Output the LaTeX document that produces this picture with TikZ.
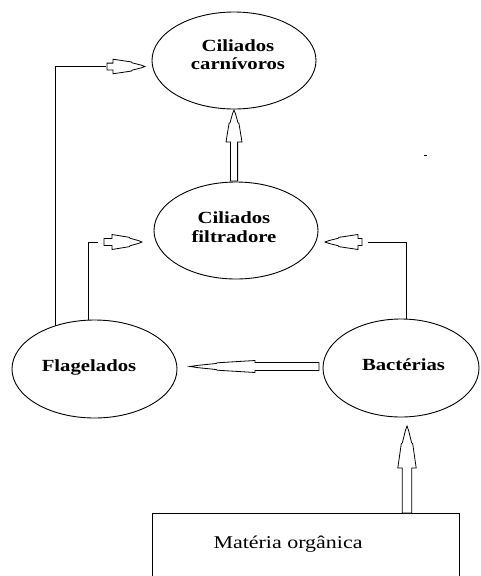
\documentclass[tikz,border=0pt]{standalone}
\usepackage{fontspec}
\setmainfont{Liberation Serif}[FakeStretch=1.22]
\usetikzlibrary{shapes.geometric,backgrounds,calc}
\newcommand{\blockarr}[6]{% #1 tip, #2 angle, #3 total length, #4 head length, #5 head half-width, #6 shaft half-width
  \begin{scope}[shift={(#1)}, x=1pt, y=1pt, rotate=#2]
    \draw[arrowline] (0,0) -- (-0.12*#4, 0.19*#5) -- (-0.4*#4, 0.5*#5) -- (-0.42*#4, 0.62*#5)
      -- (-#4, #5) -- (-#4, #6) -- (-#3, #6) -- (-#3, -#6) -- (-#4, -#6) -- (-#4, -#5)
      -- (-0.42*#4, -0.62*#5) -- (-0.4*#4, -0.5*#5) -- (-0.12*#4, -0.19*#5) -- cycle;
  \end{scope}}
\begin{document}
\begin{tikzpicture}[x=1pt, y=-1pt, line width=0.9pt,
  oval/.style={ellipse, draw, fill=white, inner sep=0pt, line width=0.9pt},
  lbl/.style={font=\fontsize{17}{18.5}\selectfont\bfseries, align=center, inner sep=0pt},
  plainlbl/.style={font=\fontsize{18}{20}\selectfont, inner sep=0pt},
  arrowline/.style={draw, line width=0.8pt, fill=white, line join=miter},
  conn/.style={line width=0.9pt}]
\useasboundingbox (0,0) rectangle (480,576);

% nodes
\node[oval, minimum width=164pt, minimum height=97pt] (carn) at (234,60.5) {};
\node[oval, minimum width=164pt, minimum height=97pt] (filt) at (236,230.5) {};
\node[oval, minimum width=165pt, minimum height=98pt] (flag) at (94.5,369) {};
\node[oval, minimum width=156pt, minimum height=98pt] (bact) at (401,368) {};
\node[draw, rectangle, minimum width=307pt, minimum height=80pt, anchor=north, inner sep=0pt] (mat) at (305.5,513) {};

% labels
\node[lbl] (tcarn) at (238,54.5) {Ciliados\\carnívoros};
\node[lbl] (tfilt) at (234,227) {Ciliados\\filtradore};
\node[lbl, anchor=base] (tflag) at (89,371) {Flagelados};
\node[lbl, anchor=base] (tbact) at (403.5,370) {Bactérias};
\node[plainlbl, anchor=base] (tmat) at (288,548) {Matéria orgânica};

% connector lines (behind the ovals)
\coordinate (c4) at (55,66.7);
\coordinate (e4) at (106,66.7);
\coordinate (c5) at (88,242);
\coordinate (e5) at (98,242);
\coordinate (c6) at (406,242);
\coordinate (e6) at (368,242);
\begin{pgfonlayer}{background}
  \draw[conn] (c4 |- flag.center) -- (c4) -- (e4);
  \draw[conn] (c5 |- flag.center) -- (c5) -- (e5);
  \draw[conn] (c6 |- bact.center) -- (c6) -- (e6);
\end{pgfonlayer}

% block arrows
\coordinate (t1) at (234,110);
\coordinate (t2) at (407,426);
\coordinate (t3) at (190,366.5);
\coordinate (t4) at (145,66.5);
\coordinate (t5) at (142,242);
\coordinate (t6) at (325,242);
\blockarr{t1}{90}{71}{32}{8}{3.6}
\blockarr{t2}{90}{87}{42}{9.2}{4.7}
\blockarr{t3}{180}{129}{65}{6}{4}
\blockarr{t4}{0}{38}{32}{7.3}{3.4}
\blockarr{t5}{0}{38}{30}{7.5}{3.5}
\blockarr{t6}{180}{37}{33}{7.5}{3.5}

% stray mark
\coordinate (d1) at (424,155.5);
\coordinate (d2) at (427,155.5);
\draw[line width=0.8pt] (d1) -- (d2);
\end{tikzpicture}
\end{document}
